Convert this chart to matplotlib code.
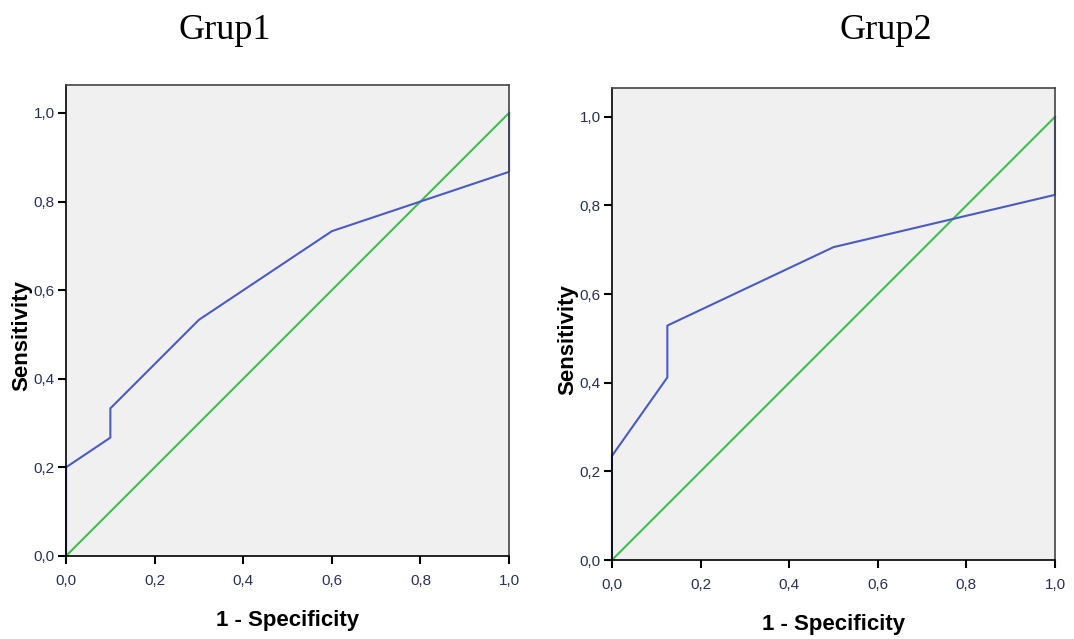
import numpy as np
import matplotlib
matplotlib.use('Agg')
import matplotlib.pyplot as plt

# ROC curve points
fpr1 = [0.0, 0.0, 0.1, 0.1, 0.3, 0.6, 1.0, 1.0]
tpr1 = [0.0, 0.2, 0.267, 0.333, 0.533, 0.733, 0.867, 1.0]

fpr2 = [0.0, 0.0, 0.125, 0.125, 0.5, 1.0, 1.0]
tpr2 = [0.0, 0.235, 0.412, 0.529, 0.706, 0.824, 1.0]

titles = ['Grup1', 'Grup2']
ticks = [0.0, 0.2, 0.4, 0.6, 0.8, 1.0]
tick_labels = ['0,0', '0,2', '0,4', '0,6', '0,8', '1,0']

fig = plt.figure(figsize=(10.74, 6.39), dpi=100, facecolor='w')

ax1 = fig.add_axes([0.0615, 0.130, 0.4125, 0.737])
ax2 = fig.add_axes([0.5698, 0.1236, 0.4125, 0.7386])

for ax, fpr, tpr, ymax in [(ax1, fpr1, tpr1, 1.063), (ax2, fpr2, tpr2, 1.065)]:
    ax.set_facecolor('#f0f0f0')
    ax.plot([0, 1], [0, 1], color='#3cbf4c', linewidth=1.5, clip_on=False)
    ax.plot(fpr, tpr, color='#4a5cbf', linewidth=1.5, clip_on=False)
    ax.set_xlim(0, 1)
    ax.set_ylim(0, ymax)
    ax.set_xticks(ticks)
    ax.set_xticklabels(tick_labels, family='Liberation Sans')
    ax.set_yticks(ticks)
    ax.set_yticklabels(tick_labels, family='Liberation Sans')
    ax.tick_params(direction='out', length=6, width=1.5, colors='black',
                   labelcolor='#2c2f55', labelsize=11)
    ax.tick_params(axis='x', pad=7)
    ax.tick_params(axis='y', pad=2)
    for s in ax.spines.values():
        s.set_color('#444444')
        s.set_linewidth(1.2)
    ax.spines['left'].set_color('black')
    ax.spines['bottom'].set_color('black')
    ax.set_xlabel('1 - Specificity', fontsize=16, fontweight='bold',
                  family='Liberation Sans', labelpad=16)
    ax.set_ylabel('Sensitivity', fontsize=16, fontweight='bold',
                  family='Liberation Sans', labelpad=1)
    ax.yaxis.label.set_y(0.468)

fig.text(0.2095, 0.953, titles[0], ha='center', va='center', fontsize=26,
         family='Liberation Serif')
fig.text(0.825, 0.953, titles[1], ha='center', va='center', fontsize=26,
         family='Liberation Serif')

fig.savefig('out.png', dpi=100, facecolor='w')
